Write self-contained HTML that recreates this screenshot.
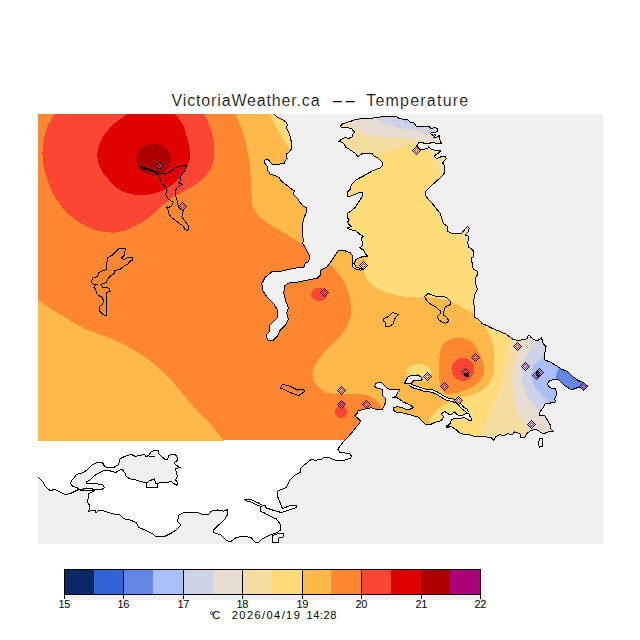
<!DOCTYPE html>
<html><head><meta charset="utf-8"><title>VictoriaWeather.ca -- Temperature</title>
<style>html,body{margin:0;padding:0;background:#fff}body{width:640px;height:640px;overflow:hidden;position:relative}svg{display:block}text{font-family:"Liberation Sans",sans-serif;fill:#000}</style></head><body>
<svg width="640" height="640" viewBox="0 0 640 640">
<rect width="640" height="640" fill="#fff"/>
<defs><clipPath id="mapclip"><rect x="38" y="114" width="565" height="430"/></clipPath>
<clipPath id="landclip"><path d="M38.0,113.0 L271.0,113.0 L273.5,113.8 L277.3,117.1 L282.8,119.8 L286.1,122.0 L287.2,124.8 L286.6,128.0 L288.3,131.3 L289.9,135.7 L290.5,138.4 L291.6,142.8 L291.6,148.3 L289.9,151.6 L286.6,153.8 L286.6,156.5 L287.2,158.7 L285.0,160.9 L283.9,163.8 L278.4,164.1 L272.4,164.1 L270.2,162.0 L268.6,159.8 L265.3,159.8 L264.2,161.4 L265.3,164.1 L267.5,166.9 L268.0,170.7 L270.2,174.0 L274.6,175.6 L279.0,177.3 L280.8,180.5 L286.2,184.8 L291.7,189.2 L294.5,190.9 L293.4,194.1 L297.2,198.0 L299.9,202.3 L303.2,206.2 L306.5,207.8 L306.5,212.2 L304.3,217.1 L303.2,220.9 L302.1,225.3 L302.1,231.9 L302.7,237.3 L303.8,239.5 L302.5,243.0 L304.4,246.2 L308.0,252.8 L310.0,257.5 L308.0,262.2 L305.3,263.0 L304.4,266.9 L296.9,267.8 L287.5,269.7 L280.0,271.5 L272.5,271.2 L265.0,277.5 L261.8,283.8 L263.0,291.2 L267.5,297.5 L273.8,303.8 L277.5,310.0 L277.5,317.5 L273.8,321.2 L270.0,325.0 L269.5,331.2 L266.2,335.0 L267.5,340.0 L272.5,340.8 L277.5,336.2 L280.0,330.6 L285.6,325.0 L288.4,319.4 L286.6,312.8 L288.4,308.0 L285.6,300.6 L283.8,293.0 L284.7,285.6 L289.4,282.8 L298.8,281.9 L308.0,280.0 L317.5,278.0 L320.3,275.3 L320.3,270.6 L326.9,266.9 L330.6,262.2 L334.4,256.6 L338.0,251.0 L343.8,250.4 L350.3,252.8 L353.0,256.6 L352.2,262.0 L352.2,266.0 L355.0,268.8 L360.6,270.2 L363.4,269.0 L360.6,268.4 L356.0,266.9 L354.0,263.5 L356.0,259.4 L362.5,256.6 L368.0,256.0 L366.2,254.7 L363.4,250.0 L359.7,248.0 L362.9,245.0 L362.3,241.7 L361.2,238.4 L363.4,236.2 L359.6,234.0 L355.8,230.8 L350.3,229.7 L347.6,228.0 L351.4,226.4 L349.2,224.8 L347.6,222.0 L349.2,219.8 L347.6,218.2 L347.6,213.3 L350.9,211.1 L354.7,207.8 L357.4,204.0 L359.6,200.7 L362.3,196.3 L362.3,192.5 L359.6,192.5 L354.1,194.7 L348.7,196.9 L347.6,196.3 L347.6,192.0 L350.3,189.2 L351.4,184.8 L353.6,182.1 L356.9,179.4 L363.4,176.0 L371.1,171.6 L377.1,168.9 L380.4,167.8 L382.0,166.1 L382.6,162.3 L379.8,160.1 L377.7,157.9 L373.3,155.8 L372.2,153.6 L367.8,153.3 L360.7,154.1 L358.5,156.3 L356.9,155.8 L355.2,153.0 L353.0,151.9 L349.2,149.2 L345.4,147.0 L344.8,144.8 L342.7,142.6 L338.8,141.3 L341.6,139.3 L344.8,137.7 L349.2,138.2 L352.5,136.6 L353.0,133.9 L354.5,132.2 L353.0,130.6 L351.4,128.4 L348.1,127.9 L341.0,127.3 L340.5,126.2 L342.7,123.5 L349.2,121.8 L356.9,119.1 L366.7,118.6 L378.8,117.5 L382.0,116.2 L396.2,116.2 L398.4,118.0 L400.0,118.9 L407.5,119.4 L410.3,122.2 L414.0,123.0 L416.0,126.0 L423.4,126.4 L429.5,126.9 L431.0,128.8 L434.7,127.3 L437.0,128.3 L437.5,131.0 L435.6,132.5 L431.4,132.5 L430.5,133.4 L432.8,135.3 L436.0,134.4 L434.7,136.7 L433.8,137.7 L437.0,137.2 L439.4,135.3 L439.8,138.0 L440.3,141.9 L441.7,143.3 L437.5,143.3 L432.8,142.8 L427.2,143.3 L424.8,143.8 L423.0,142.6 L418.8,142.8 L416.9,145.6 L418.8,147.5 L420.0,149.4 L423.4,149.4 L428.0,148.4 L428.6,147.0 L430.0,148.0 L432.3,149.8 L437.5,150.3 L440.8,150.8 L438.4,153.0 L436.0,154.5 L434.2,156.0 L436.6,158.3 L439.4,157.8 L442.2,156.0 L445.5,156.4 L446.4,158.8 L444.0,161.0 L442.7,163.0 L444.0,165.3 L445.0,171.1 L443.4,174.9 L439.0,178.8 L433.6,183.7 L429.2,188.0 L426.0,191.3 L425.4,194.6 L427.6,198.4 L431.4,202.3 L435.2,207.2 L440.2,213.2 L441.8,218.1 L443.4,223.6 L447.3,226.3 L447.3,230.7 L450.0,232.9 L456.6,233.7 L461.0,234.0 L463.7,230.7 L467.5,226.3 L469.1,228.0 L468.6,231.2 L466.4,233.4 L465.3,235.6 L467.5,235.6 L469.1,237.8 L468.8,239.4 L467.7,241.6 L468.3,247.0 L472.7,249.8 L473.8,252.5 L473.5,256.3 L471.6,258.0 L472.1,263.4 L473.2,268.9 L477.0,271.1 L477.6,274.9 L475.9,277.1 L475.7,283.1 L476.5,287.0 L477.6,288.6 L475.9,292.4 L474.3,295.7 L473.8,301.6 L474.3,309.2 L474.8,317.4 L478.7,319.6 L482.0,323.4 L486.9,325.6 L492.3,328.4 L498.9,331.1 L506.6,334.4 L509.8,337.1 L513.1,339.3 L517.5,340.4 L523.0,339.8 L527.3,338.8 L527.9,336.0 L529.5,335.5 L530.6,337.1 L532.8,338.8 L536.9,341.0 L541.5,338.0 L543.4,343.8 L546.2,346.5 L544.8,353.0 L544.4,359.7 L550.0,362.0 L555.6,365.3 L561.2,369.0 L567.8,371.9 L572.5,376.5 L578.0,380.3 L583.8,383.0 L587.5,386.0 L584.7,389.7 L581.9,387.8 L577.2,387.8 L571.5,389.7 L565.0,386.0 L561.2,382.2 L558.4,379.4 L553.8,379.4 L549.0,381.2 L547.2,384.0 L550.0,387.8 L555.6,388.8 L556.5,394.4 L554.7,399.0 L555.6,401.9 L551.9,402.8 L545.3,403.8 L543.4,407.5 L540.6,411.2 L538.8,414.0 L540.6,416.0 L544.4,415.0 L547.2,419.7 L550.0,424.4 L551.0,429.0 L553.4,431.5 L548.0,431.9 L543.4,434.0 L538.8,431.0 L535.0,429.0 L530.3,431.0 L526.5,433.8 L524.7,437.5 L521.0,437.5 L520.0,433.8 L514.4,431.9 L512.5,434.7 L507.8,433.8 L504.0,435.6 L499.4,434.7 L495.6,436.5 L493.5,440.5 L491.7,438.0 L486.2,436.9 L479.7,436.9 L474.2,436.3 L468.8,434.7 L463.3,434.1 L458.9,432.5 L455.6,429.2 L451.2,426.5 L446.9,427.0 L448.5,424.8 L450.7,422.7 L451.2,419.4 L454.5,418.8 L460.0,418.3 L464.4,417.7 L466.6,418.8 L469.8,421.0 L472.0,419.9 L470.4,417.2 L468.8,413.9 L466.6,413.4 L463.3,415.0 L458.9,415.5 L456.2,413.9 L454.5,411.7 L451.2,414.5 L448.0,413.9 L444.7,411.2 L441.4,413.9 L443.6,417.2 L441.4,420.5 L435.9,422.1 L431.6,423.8 L430.6,424.8 L426.2,424.8 L423.0,422.0 L420.8,419.8 L418.6,417.1 L414.2,416.0 L408.8,414.4 L402.2,412.7 L396.7,412.7 L393.2,410.0 L394.0,407.3 L397.8,406.7 L402.7,407.8 L406.6,410.0 L410.9,408.9 L413.7,407.3 L408.8,404.5 L402.7,401.8 L400.0,399.6 L396.7,397.4 L391.8,398.0 L396.2,395.8 L397.8,392.5 L400.0,389.8 L392.3,389.8 L388.0,388.7 L384.1,385.4 L381.4,382.4 L375.9,383.2 L374.3,385.9 L377.0,388.1 L382.0,389.2 L383.0,392.0 L382.5,395.2 L385.2,398.0 L385.8,401.8 L384.1,405.6 L382.5,409.5 L378.1,410.0 L371.6,407.8 L365.0,408.9 L358.1,410.9 L357.0,413.7 L354.8,415.9 L358.1,418.6 L360.3,420.8 L359.8,423.5 L355.9,427.3 L352.7,431.7 L348.3,436.6 L343.9,441.0 L340.6,445.4 L337.9,449.2 L339.5,452.0 L345.0,453.0 L349.9,453.6 L351.6,456.3 L349.9,458.5 L343.9,460.2 L335.2,460.2 L329.7,458.0 L324.2,457.4 L320.9,459.6 L315.5,460.2 L311.0,459.5 L307.5,462.5 L301.2,467.5 L300.0,472.5 L295.0,475.0 L290.0,480.0 L286.2,487.5 L277.5,491.2 L277.0,495.0 L280.0,502.5 L282.5,508.8 L290.0,505.5 L296.2,505.5 L296.2,507.5 L288.8,510.0 L281.2,512.5 L272.5,510.0 L265.0,507.5 L265.0,505.0 L261.2,506.2 L260.0,511.2 L263.8,512.5 L270.0,516.2 L276.2,518.8 L280.0,523.8 L280.5,530.0 L277.5,532.5 L270.0,535.0 L262.5,538.8 L258.8,542.5 L254.5,542.0 L251.2,537.5 L243.8,536.2 L236.2,537.5 L230.0,542.0 L226.2,540.0 L221.2,535.0 L213.8,532.5 L213.8,529.5 L220.0,523.8 L225.0,518.8 L228.0,513.8 L227.5,509.5 L223.8,511.2 L217.5,510.0 L211.2,511.2 L208.8,514.5 L202.5,514.5 L196.2,512.0 L190.0,512.5 L183.8,512.5 L178.8,515.0 L177.5,521.2 L181.2,525.0 L177.5,528.8 L172.5,532.5 L165.0,536.2 L156.2,537.0 L152.5,533.8 L145.0,530.0 L138.8,527.5 L136.2,522.5 L130.0,520.0 L123.8,518.8 L120.0,515.0 L112.5,513.8 L105.0,511.2 L98.8,510.0 L96.2,513.0 L95.0,510.0 L88.8,511.2 L90.0,506.2 L87.0,501.2 L88.0,498.8 L88.8,493.8 L95.0,490.3 L82.0,490.5 L78.8,489.4 L76.2,490.6 L70.0,493.8 L65.0,494.4 L60.0,491.9 L55.0,489.5 L50.0,490.5 L45.0,486.2 L42.5,481.2 L38.2,477.5 L38.0,477.5Z"/></clipPath>
<clipPath id="dataclip"><rect x="38" y="114" width="565" height="327"/></clipPath>
<g id="mk"><path d="M0,-4.5L4.5,0L0,4.5L-4.5,0Z"/><path fill="#000" d="M-0.5,-4.5h1v1h-1zM-1.5,-3.5h1v1h-1zM0.5,-3.5h1v1h-1zM-2.5,-2.5h1v1h-1zM1.5,-2.5h1v1h-1zM-3.5,-1.5h1v1h-1zM2.5,-1.5h1v1h-1zM-4.5,-0.5h1v1h-1zM3.5,-0.5h1v1h-1zM-3.5,0.5h1v1h-1zM2.5,0.5h1v1h-1zM-2.5,1.5h1v1h-1zM1.5,1.5h1v1h-1zM-1.5,2.5h1v1h-1zM0.5,2.5h1v1h-1zM-0.5,3.5h1v1h-1z"/><path fill="#cc1499" d="M-0.5,-2.5h1v1h-1zM-1.5,-1.5h1v1h-1zM0.5,-1.5h1v1h-1zM-2.5,-0.5h1v1h-1zM1.5,-0.5h1v1h-1zM-1.5,0.5h1v1h-1zM0.5,0.5h1v1h-1zM-0.5,1.5h1v1h-1z"/></g>
</defs>
<g shape-rendering="crispEdges">
<rect x="38" y="114" width="565" height="430" fill="#f0f0f0"/>
<g clip-path="url(#mapclip)">
<path d="M38.0,113.0 L271.0,113.0 L273.5,113.8 L277.3,117.1 L282.8,119.8 L286.1,122.0 L287.2,124.8 L286.6,128.0 L288.3,131.3 L289.9,135.7 L290.5,138.4 L291.6,142.8 L291.6,148.3 L289.9,151.6 L286.6,153.8 L286.6,156.5 L287.2,158.7 L285.0,160.9 L283.9,163.8 L278.4,164.1 L272.4,164.1 L270.2,162.0 L268.6,159.8 L265.3,159.8 L264.2,161.4 L265.3,164.1 L267.5,166.9 L268.0,170.7 L270.2,174.0 L274.6,175.6 L279.0,177.3 L280.8,180.5 L286.2,184.8 L291.7,189.2 L294.5,190.9 L293.4,194.1 L297.2,198.0 L299.9,202.3 L303.2,206.2 L306.5,207.8 L306.5,212.2 L304.3,217.1 L303.2,220.9 L302.1,225.3 L302.1,231.9 L302.7,237.3 L303.8,239.5 L302.5,243.0 L304.4,246.2 L308.0,252.8 L310.0,257.5 L308.0,262.2 L305.3,263.0 L304.4,266.9 L296.9,267.8 L287.5,269.7 L280.0,271.5 L272.5,271.2 L265.0,277.5 L261.8,283.8 L263.0,291.2 L267.5,297.5 L273.8,303.8 L277.5,310.0 L277.5,317.5 L273.8,321.2 L270.0,325.0 L269.5,331.2 L266.2,335.0 L267.5,340.0 L272.5,340.8 L277.5,336.2 L280.0,330.6 L285.6,325.0 L288.4,319.4 L286.6,312.8 L288.4,308.0 L285.6,300.6 L283.8,293.0 L284.7,285.6 L289.4,282.8 L298.8,281.9 L308.0,280.0 L317.5,278.0 L320.3,275.3 L320.3,270.6 L326.9,266.9 L330.6,262.2 L334.4,256.6 L338.0,251.0 L343.8,250.4 L350.3,252.8 L353.0,256.6 L352.2,262.0 L352.2,266.0 L355.0,268.8 L360.6,270.2 L363.4,269.0 L360.6,268.4 L356.0,266.9 L354.0,263.5 L356.0,259.4 L362.5,256.6 L368.0,256.0 L366.2,254.7 L363.4,250.0 L359.7,248.0 L362.9,245.0 L362.3,241.7 L361.2,238.4 L363.4,236.2 L359.6,234.0 L355.8,230.8 L350.3,229.7 L347.6,228.0 L351.4,226.4 L349.2,224.8 L347.6,222.0 L349.2,219.8 L347.6,218.2 L347.6,213.3 L350.9,211.1 L354.7,207.8 L357.4,204.0 L359.6,200.7 L362.3,196.3 L362.3,192.5 L359.6,192.5 L354.1,194.7 L348.7,196.9 L347.6,196.3 L347.6,192.0 L350.3,189.2 L351.4,184.8 L353.6,182.1 L356.9,179.4 L363.4,176.0 L371.1,171.6 L377.1,168.9 L380.4,167.8 L382.0,166.1 L382.6,162.3 L379.8,160.1 L377.7,157.9 L373.3,155.8 L372.2,153.6 L367.8,153.3 L360.7,154.1 L358.5,156.3 L356.9,155.8 L355.2,153.0 L353.0,151.9 L349.2,149.2 L345.4,147.0 L344.8,144.8 L342.7,142.6 L338.8,141.3 L341.6,139.3 L344.8,137.7 L349.2,138.2 L352.5,136.6 L353.0,133.9 L354.5,132.2 L353.0,130.6 L351.4,128.4 L348.1,127.9 L341.0,127.3 L340.5,126.2 L342.7,123.5 L349.2,121.8 L356.9,119.1 L366.7,118.6 L378.8,117.5 L382.0,116.2 L396.2,116.2 L398.4,118.0 L400.0,118.9 L407.5,119.4 L410.3,122.2 L414.0,123.0 L416.0,126.0 L423.4,126.4 L429.5,126.9 L431.0,128.8 L434.7,127.3 L437.0,128.3 L437.5,131.0 L435.6,132.5 L431.4,132.5 L430.5,133.4 L432.8,135.3 L436.0,134.4 L434.7,136.7 L433.8,137.7 L437.0,137.2 L439.4,135.3 L439.8,138.0 L440.3,141.9 L441.7,143.3 L437.5,143.3 L432.8,142.8 L427.2,143.3 L424.8,143.8 L423.0,142.6 L418.8,142.8 L416.9,145.6 L418.8,147.5 L420.0,149.4 L423.4,149.4 L428.0,148.4 L428.6,147.0 L430.0,148.0 L432.3,149.8 L437.5,150.3 L440.8,150.8 L438.4,153.0 L436.0,154.5 L434.2,156.0 L436.6,158.3 L439.4,157.8 L442.2,156.0 L445.5,156.4 L446.4,158.8 L444.0,161.0 L442.7,163.0 L444.0,165.3 L445.0,171.1 L443.4,174.9 L439.0,178.8 L433.6,183.7 L429.2,188.0 L426.0,191.3 L425.4,194.6 L427.6,198.4 L431.4,202.3 L435.2,207.2 L440.2,213.2 L441.8,218.1 L443.4,223.6 L447.3,226.3 L447.3,230.7 L450.0,232.9 L456.6,233.7 L461.0,234.0 L463.7,230.7 L467.5,226.3 L469.1,228.0 L468.6,231.2 L466.4,233.4 L465.3,235.6 L467.5,235.6 L469.1,237.8 L468.8,239.4 L467.7,241.6 L468.3,247.0 L472.7,249.8 L473.8,252.5 L473.5,256.3 L471.6,258.0 L472.1,263.4 L473.2,268.9 L477.0,271.1 L477.6,274.9 L475.9,277.1 L475.7,283.1 L476.5,287.0 L477.6,288.6 L475.9,292.4 L474.3,295.7 L473.8,301.6 L474.3,309.2 L474.8,317.4 L478.7,319.6 L482.0,323.4 L486.9,325.6 L492.3,328.4 L498.9,331.1 L506.6,334.4 L509.8,337.1 L513.1,339.3 L517.5,340.4 L523.0,339.8 L527.3,338.8 L527.9,336.0 L529.5,335.5 L530.6,337.1 L532.8,338.8 L536.9,341.0 L541.5,338.0 L543.4,343.8 L546.2,346.5 L544.8,353.0 L544.4,359.7 L550.0,362.0 L555.6,365.3 L561.2,369.0 L567.8,371.9 L572.5,376.5 L578.0,380.3 L583.8,383.0 L587.5,386.0 L584.7,389.7 L581.9,387.8 L577.2,387.8 L571.5,389.7 L565.0,386.0 L561.2,382.2 L558.4,379.4 L553.8,379.4 L549.0,381.2 L547.2,384.0 L550.0,387.8 L555.6,388.8 L556.5,394.4 L554.7,399.0 L555.6,401.9 L551.9,402.8 L545.3,403.8 L543.4,407.5 L540.6,411.2 L538.8,414.0 L540.6,416.0 L544.4,415.0 L547.2,419.7 L550.0,424.4 L551.0,429.0 L553.4,431.5 L548.0,431.9 L543.4,434.0 L538.8,431.0 L535.0,429.0 L530.3,431.0 L526.5,433.8 L524.7,437.5 L521.0,437.5 L520.0,433.8 L514.4,431.9 L512.5,434.7 L507.8,433.8 L504.0,435.6 L499.4,434.7 L495.6,436.5 L493.5,440.5 L491.7,438.0 L486.2,436.9 L479.7,436.9 L474.2,436.3 L468.8,434.7 L463.3,434.1 L458.9,432.5 L455.6,429.2 L451.2,426.5 L446.9,427.0 L448.5,424.8 L450.7,422.7 L451.2,419.4 L454.5,418.8 L460.0,418.3 L464.4,417.7 L466.6,418.8 L469.8,421.0 L472.0,419.9 L470.4,417.2 L468.8,413.9 L466.6,413.4 L463.3,415.0 L458.9,415.5 L456.2,413.9 L454.5,411.7 L451.2,414.5 L448.0,413.9 L444.7,411.2 L441.4,413.9 L443.6,417.2 L441.4,420.5 L435.9,422.1 L431.6,423.8 L430.6,424.8 L426.2,424.8 L423.0,422.0 L420.8,419.8 L418.6,417.1 L414.2,416.0 L408.8,414.4 L402.2,412.7 L396.7,412.7 L393.2,410.0 L394.0,407.3 L397.8,406.7 L402.7,407.8 L406.6,410.0 L410.9,408.9 L413.7,407.3 L408.8,404.5 L402.7,401.8 L400.0,399.6 L396.7,397.4 L391.8,398.0 L396.2,395.8 L397.8,392.5 L400.0,389.8 L392.3,389.8 L388.0,388.7 L384.1,385.4 L381.4,382.4 L375.9,383.2 L374.3,385.9 L377.0,388.1 L382.0,389.2 L383.0,392.0 L382.5,395.2 L385.2,398.0 L385.8,401.8 L384.1,405.6 L382.5,409.5 L378.1,410.0 L371.6,407.8 L365.0,408.9 L358.1,410.9 L357.0,413.7 L354.8,415.9 L358.1,418.6 L360.3,420.8 L359.8,423.5 L355.9,427.3 L352.7,431.7 L348.3,436.6 L343.9,441.0 L340.6,445.4 L337.9,449.2 L339.5,452.0 L345.0,453.0 L349.9,453.6 L351.6,456.3 L349.9,458.5 L343.9,460.2 L335.2,460.2 L329.7,458.0 L324.2,457.4 L320.9,459.6 L315.5,460.2 L311.0,459.5 L307.5,462.5 L301.2,467.5 L300.0,472.5 L295.0,475.0 L290.0,480.0 L286.2,487.5 L277.5,491.2 L277.0,495.0 L280.0,502.5 L282.5,508.8 L290.0,505.5 L296.2,505.5 L296.2,507.5 L288.8,510.0 L281.2,512.5 L272.5,510.0 L265.0,507.5 L265.0,505.0 L261.2,506.2 L260.0,511.2 L263.8,512.5 L270.0,516.2 L276.2,518.8 L280.0,523.8 L280.5,530.0 L277.5,532.5 L270.0,535.0 L262.5,538.8 L258.8,542.5 L254.5,542.0 L251.2,537.5 L243.8,536.2 L236.2,537.5 L230.0,542.0 L226.2,540.0 L221.2,535.0 L213.8,532.5 L213.8,529.5 L220.0,523.8 L225.0,518.8 L228.0,513.8 L227.5,509.5 L223.8,511.2 L217.5,510.0 L211.2,511.2 L208.8,514.5 L202.5,514.5 L196.2,512.0 L190.0,512.5 L183.8,512.5 L178.8,515.0 L177.5,521.2 L181.2,525.0 L177.5,528.8 L172.5,532.5 L165.0,536.2 L156.2,537.0 L152.5,533.8 L145.0,530.0 L138.8,527.5 L136.2,522.5 L130.0,520.0 L123.8,518.8 L120.0,515.0 L112.5,513.8 L105.0,511.2 L98.8,510.0 L96.2,513.0 L95.0,510.0 L88.8,511.2 L90.0,506.2 L87.0,501.2 L88.0,498.8 L88.8,493.8 L95.0,490.3 L82.0,490.5 L78.8,489.4 L76.2,490.6 L70.0,493.8 L65.0,494.4 L60.0,491.9 L55.0,489.5 L50.0,490.5 L45.0,486.2 L42.5,481.2 L38.2,477.5 L38.0,477.5Z" fill="#fff"/>
<g clip-path="url(#dataclip)"><g clip-path="url(#landclip)">
<rect x="38" y="113" width="565" height="327" fill="#ff8732"/>
<path d="M20.0,288.0C20.0,288.0 32.6,296.3 38.0,300.0C43.4,303.7 47.6,306.9 52.5,310.0C57.4,313.1 62.1,315.6 67.5,318.8C72.9,321.9 78.8,325.8 85.0,328.8C91.2,331.7 98.8,333.8 105.0,336.2C111.2,338.8 116.7,340.8 122.5,343.8C128.3,346.7 134.6,350.2 140.0,353.8C145.4,357.3 150.0,360.8 155.0,365.0C160.0,369.2 165.4,374.0 170.0,378.8C174.6,383.5 179.2,389.8 182.5,393.8C185.8,397.7 187.1,399.1 190.0,402.5C192.9,405.9 196.5,410.2 200.0,414.0C203.5,417.8 207.0,420.5 211.0,425.0C215.0,429.5 220.0,436.0 224.0,441.0C228.0,446.0 235.0,455.0 235.0,455.0C235.0,455.0 20.0,455.0 20.0,455.0C20.0,455.0 20.0,288.0 20.0,288.0Z" fill="#ffb94b"/>
<path d="M232.0,100.0C232.0,100.0 233.5,108.4 235.0,113.0C236.5,117.6 239.4,122.2 241.2,127.5C243.1,132.8 244.8,138.3 246.2,145.0C247.7,151.7 249.2,160.4 250.0,167.5C250.8,174.6 250.8,181.2 251.2,187.5C251.7,193.8 251.2,200.2 252.5,205.0C253.8,209.8 255.4,212.7 258.8,216.2C262.1,219.8 267.7,223.1 272.5,226.2C277.3,229.4 283.3,232.5 287.5,235.0C291.7,237.5 294.8,239.6 297.5,241.2C300.2,242.9 298.2,241.0 303.8,245.0C309.3,249.0 324.6,259.8 330.6,265.0C336.6,270.2 337.3,272.5 340.0,276.2C342.7,280.0 344.9,283.4 346.6,287.5C348.3,291.6 349.6,296.2 350.3,300.6C351.0,305.0 351.6,309.4 351.0,313.8C350.4,318.1 348.4,323.1 346.6,326.9C344.8,330.6 343.6,332.2 340.0,336.2C336.4,340.3 329.2,346.5 325.0,351.2C320.8,356.0 317.1,361.0 315.0,365.0C312.9,369.0 312.3,371.7 312.5,375.0C312.7,378.3 314.0,382.1 316.2,385.0C318.5,387.9 322.3,391.0 326.2,392.5C330.2,394.0 335.6,393.8 340.0,394.0C344.4,394.2 347.9,393.8 352.5,394.0C357.1,394.2 363.8,394.4 367.5,395.2C371.2,396.1 373.0,397.8 375.0,399.4C377.0,401.0 378.6,403.4 379.7,405.0C380.8,406.6 380.8,402.8 381.5,408.8C382.2,414.8 383.2,433.3 384.0,441.0C384.8,448.7 386.0,455.0 386.0,455.0C386.0,455.0 630.0,455.0 630.0,455.0C630.0,455.0 630.0,100.0 630.0,100.0C630.0,100.0 232.0,100.0 232.0,100.0Z" fill="#ffb94b"/>
<path d="M460.0,337.5C464.0,337.9 469.2,339.6 472.5,342.5C475.8,345.4 478.1,350.9 480.0,355.0C481.9,359.1 483.5,363.5 484.0,367.0C484.5,370.5 484.2,373.2 483.0,376.0C481.8,378.8 480.2,381.6 477.0,384.0C473.8,386.4 468.5,388.8 464.0,390.5C459.5,392.2 453.3,393.8 450.0,394.0C446.7,394.2 446.1,393.9 444.4,392.0C442.7,390.1 440.6,386.3 439.7,382.5C438.8,378.7 438.8,373.8 438.8,369.4C438.8,365.0 439.1,360.3 439.7,356.2C440.3,352.2 441.0,347.7 442.5,345.0C444.0,342.3 445.8,341.2 448.8,340.0C451.7,338.8 456.0,337.1 460.0,337.5Z" fill="#ff8732"/>
<ellipse cx="463" cy="369.3" rx="11.3" ry="11.5" fill="#fa4632"/>
<ellipse cx="319.3" cy="294.3" rx="8.2" ry="6.8" fill="#fa4632"/>
<ellipse cx="340.9" cy="412" rx="5.9" ry="6.2" fill="#fa4632"/>
<path d="M58.0,100.0C58.0,100.0 56.0,109.0 54.0,114.0C52.0,119.0 48.2,123.6 46.2,130.0C44.3,136.4 42.7,145.4 42.5,152.5C42.3,159.6 43.3,165.8 45.0,172.5C46.7,179.2 49.6,186.7 52.5,192.5C55.4,198.3 58.3,202.7 62.5,207.5C66.7,212.3 72.1,217.5 77.5,221.2C82.9,225.0 88.8,228.1 95.0,230.0C101.2,231.9 108.8,232.9 115.0,232.5C121.2,232.1 127.1,229.8 132.5,227.5C137.9,225.2 142.9,222.1 147.5,218.8C152.1,215.4 155.8,211.0 160.0,207.5C164.2,204.0 167.5,200.8 172.5,197.5C177.5,194.2 185.2,190.9 190.0,188.0C194.8,185.1 197.9,183.0 201.2,180.0C204.6,177.0 207.9,173.8 210.0,170.0C212.1,166.2 213.1,162.1 213.8,157.5C214.4,152.9 214.4,147.5 213.8,142.5C213.1,137.5 211.7,132.4 210.0,127.5C208.3,122.6 205.6,117.6 203.8,113.0C201.9,108.4 199.0,100.0 199.0,100.0C199.0,100.0 58.0,100.0 58.0,100.0Z" fill="#fa4632"/>
<path d="M140.0,100.0C140.0,100.0 133.3,108.8 128.8,113.0C124.2,117.2 117.1,120.5 112.5,125.0C107.9,129.5 103.8,135.0 101.2,140.0C98.7,145.0 97.0,150.0 97.0,155.0C97.0,160.0 98.7,165.2 101.2,170.0C103.8,174.8 109.4,180.4 112.5,183.8C115.6,187.1 116.7,188.2 120.0,190.0C123.3,191.8 128.3,193.6 132.5,194.4C136.7,195.2 140.8,195.3 145.0,195.0C149.2,194.7 153.8,193.7 157.5,192.5C161.2,191.3 164.6,189.7 167.5,188.0C170.4,186.3 172.5,184.7 175.0,182.5C177.5,180.3 180.3,177.9 182.5,175.0C184.7,172.1 186.8,168.1 188.0,165.0C189.2,161.9 189.8,159.2 190.0,156.2C190.2,153.3 189.8,150.2 189.4,147.5C189.0,144.8 188.6,143.8 187.5,140.0C186.4,136.2 185.2,129.5 183.0,125.0C180.8,120.5 177.0,117.2 174.0,113.0C171.0,108.8 165.0,100.0 165.0,100.0C165.0,100.0 140.0,100.0 140.0,100.0Z" fill="#e10000"/>
<ellipse cx="153.5" cy="159.7" rx="17.5" ry="16" fill="#aa0000"/>
<path d="M264.0,100.0C264.0,100.0 270.2,114.4 270.2,114.4C270.2,114.4 275.2,125.3 275.2,125.3C275.2,125.3 280.6,135.2 280.6,135.2C280.6,135.2 286.1,143.9 286.1,143.9C286.1,143.9 289.4,149.4 289.4,149.4C289.4,149.4 291.0,152.0 291.0,152.0C291.0,152.0 300.0,152.0 300.0,152.0C300.0,152.0 300.0,100.0 300.0,100.0C300.0,100.0 264.0,100.0 264.0,100.0Z" fill="#ffdc78"/>
<path d="M335.0,100.0C335.0,100.0 335.0,247.0 335.0,247.0C335.0,247.0 361.0,247.0 361.0,247.0C361.0,247.0 368.0,256.0 368.0,256.0C368.0,256.0 363.1,265.2 363.4,269.7C363.7,274.2 367.0,279.6 370.0,283.0C373.0,286.4 377.5,288.5 381.2,290.3C385.0,292.1 389.4,293.1 392.5,294.0C395.6,294.9 396.2,295.4 400.0,296.0C403.8,296.6 410.0,297.2 415.0,297.5C420.0,297.8 424.2,296.9 430.0,297.5C435.8,298.1 444.6,299.6 450.0,301.2C455.4,302.9 458.9,305.6 462.5,307.5C466.1,309.4 469.6,310.9 471.6,312.5C473.7,314.1 473.0,315.4 474.8,317.4C476.6,319.4 480.5,322.4 482.5,324.5C484.5,326.6 485.6,328.0 486.9,330.0C488.2,332.0 489.2,334.2 490.2,336.6C491.2,339.0 492.3,341.6 492.9,344.2C493.5,346.8 493.8,349.2 494.0,351.9C494.2,354.6 494.4,357.2 494.3,360.6C494.2,364.0 494.4,368.4 493.7,372.0C493.0,375.6 491.6,379.2 490.0,382.0C488.4,384.8 487.2,386.3 484.4,388.5C481.6,390.7 477.4,393.4 473.0,395.0C468.6,396.6 461.8,396.8 458.0,398.0C454.2,399.2 452.6,400.7 450.0,402.0C447.4,403.3 444.7,404.6 442.5,406.0C440.3,407.4 438.9,408.8 437.0,410.5C435.1,412.2 432.5,414.0 431.2,416.2C430.0,418.5 429.9,419.2 429.4,424.0C428.9,428.8 428.2,439.8 428.0,445.0C427.8,450.2 428.0,455.0 428.0,455.0C428.0,455.0 630.0,455.0 630.0,455.0C630.0,455.0 630.0,100.0 630.0,100.0C630.0,100.0 335.0,100.0 335.0,100.0Z" fill="#ffdc78"/>
<ellipse cx="419" cy="373" rx="12.5" ry="9" fill="#ffdc78"/>
<path d="M335.0,100.0C335.0,100.0 335.0,160.0 335.0,160.0C335.0,160.0 368.0,157.0 368.0,157.0C368.0,157.0 371.0,154.7 372.8,154.1C374.5,153.5 376.5,153.9 378.8,153.6C381.0,153.3 383.9,153.2 386.4,152.5C388.9,151.8 391.6,150.6 394.0,149.7C396.4,148.8 398.4,148.0 400.6,147.2C402.9,146.4 405.3,145.4 407.5,144.9C409.7,144.4 412.2,144.5 414.0,144.2C415.8,143.9 416.2,142.1 418.5,143.3C420.8,144.5 425.8,148.7 428.0,151.2C430.2,153.8 430.6,156.2 431.9,158.8C433.2,161.2 434.8,164.4 435.6,166.2C436.5,168.1 436.0,168.5 437.0,170.0C438.0,171.5 440.3,174.2 441.5,175.5C442.7,176.8 444.0,178.0 444.0,178.0C444.0,178.0 444.0,181.0 444.0,181.0C444.0,181.0 460.0,181.0 460.0,181.0C460.0,181.0 460.0,100.0 460.0,100.0C460.0,100.0 335.0,100.0 335.0,100.0Z" fill="#f5dca0"/>
<path d="M458.0,232.0C458.0,232.0 459.2,234.0 460.0,235.5C460.8,237.0 462.0,239.1 463.0,241.0C464.0,242.9 464.8,244.9 466.0,247.0C467.2,249.1 469.1,251.8 470.0,253.6C470.9,255.4 471.5,258.0 471.5,258.0C471.5,258.0 480.0,258.0 480.0,258.0C480.0,258.0 480.0,225.0 480.0,225.0C480.0,225.0 458.0,225.0 458.0,225.0C458.0,225.0 458.0,232.0 458.0,232.0Z" fill="#f5dca0"/>
<path d="M511.0,320.0C511.0,320.0 511.7,330.0 511.0,335.0C510.3,340.0 508.1,345.0 507.0,350.0C505.9,355.0 505.3,360.0 504.5,365.0C503.7,370.0 503.2,374.7 502.0,380.0C500.8,385.3 498.7,392.3 497.0,397.0C495.3,401.7 493.5,404.6 492.0,408.0C490.5,411.4 489.6,414.0 488.0,417.5C486.4,421.0 483.7,425.6 482.5,428.8C481.3,431.9 481.0,433.5 480.6,436.2C480.2,439.0 480.1,441.9 480.0,445.0C479.9,448.1 480.0,455.0 480.0,455.0C480.0,455.0 630.0,455.0 630.0,455.0C630.0,455.0 630.0,320.0 630.0,320.0C630.0,320.0 511.0,320.0 511.0,320.0Z" fill="#f5dca0"/>
<path d="M347.0,100.0C347.0,100.0 347.2,117.3 348.5,122.0C349.8,126.7 352.2,126.6 354.7,128.4C357.2,130.2 360.3,131.6 363.4,132.8C366.5,134.0 369.8,134.8 373.3,135.5C376.8,136.2 380.6,136.8 384.2,137.2C387.8,137.6 391.7,137.6 395.2,137.7C398.7,137.8 401.1,137.5 405.0,137.9C408.9,138.3 415.4,139.3 418.8,140.0C422.1,140.7 423.1,141.5 425.3,141.9C427.5,142.3 428.7,142.2 432.0,142.5C435.3,142.8 440.3,143.8 445.0,144.0C449.7,144.2 460.0,144.0 460.0,144.0C460.0,144.0 460.0,100.0 460.0,100.0C460.0,100.0 347.0,100.0 347.0,100.0Z" fill="#e6dcd2"/>
<path d="M522.5,320.0C522.5,320.0 522.6,332.5 522.5,336.0C522.4,339.5 522.6,338.5 521.9,341.0C521.1,343.5 519.2,347.4 518.0,351.2C516.8,355.1 515.3,360.0 514.4,364.4C513.5,368.8 512.8,373.1 512.5,377.5C512.2,381.9 512.5,386.4 512.9,390.6C513.3,394.9 513.8,398.8 515.0,403.0C516.2,407.2 518.2,412.2 520.0,416.0C521.8,419.8 524.1,423.2 525.6,426.0C527.1,428.8 528.3,429.8 529.0,433.0C529.7,436.2 529.8,441.3 530.0,445.0C530.2,448.7 530.0,455.0 530.0,455.0C530.0,455.0 630.0,455.0 630.0,455.0C630.0,455.0 630.0,320.0 630.0,320.0C630.0,320.0 522.5,320.0 522.5,320.0Z" fill="#e6dcd2"/>
<path d="M378.0,100.0C378.0,100.0 378.1,114.8 378.8,118.6C379.4,122.4 380.2,121.7 382.0,122.9C383.8,124.1 387.0,124.9 389.7,125.7C392.4,126.5 395.1,127.2 398.0,127.8C400.9,128.4 403.5,128.6 407.0,129.2C410.5,129.8 415.4,130.4 418.8,131.1C422.1,131.8 425.0,132.8 427.2,133.4C429.4,134.1 429.0,134.4 432.0,135.0C435.0,135.6 440.3,136.7 445.0,137.0C449.7,137.3 460.0,137.0 460.0,137.0C460.0,137.0 460.0,100.0 460.0,100.0C460.0,100.0 378.0,100.0 378.0,100.0Z" fill="#cdd2e6"/>
<path d="M536.0,320.0C536.0,320.0 536.2,332.7 536.0,336.0C535.8,339.3 535.8,338.1 535.0,340.0C534.2,341.9 532.8,344.7 531.2,347.5C529.7,350.3 527.2,353.6 525.6,357.0C524.0,360.4 522.5,364.3 521.9,368.0C521.3,371.7 521.4,375.6 521.9,379.4C522.4,383.2 523.3,387.0 524.7,390.6C526.1,394.2 528.3,398.0 530.3,401.0C532.3,404.0 535.3,406.5 536.9,408.4C538.5,410.3 539.0,411.7 539.7,412.2C540.4,412.7 541.0,411.5 541.0,411.5C541.0,411.5 544.0,407.0 544.0,407.0C544.0,407.0 546.0,403.5 546.0,403.5C546.0,403.5 630.0,403.5 630.0,403.5C630.0,403.5 630.0,320.0 630.0,320.0C630.0,320.0 536.0,320.0 536.0,320.0Z" fill="#cdd2e6"/>
<path d="M546.0,340.0C546.0,340.0 546.3,347.5 546.0,350.0C545.7,352.5 545.4,353.4 544.4,355.0C543.4,356.6 541.4,358.0 539.7,359.7C538.0,361.4 535.4,363.0 534.0,365.3C532.6,367.6 531.4,370.8 531.2,373.8C531.1,376.7 531.8,380.0 533.0,383.0C534.2,386.0 536.5,388.8 538.8,391.5C541.0,394.2 543.8,397.2 546.2,399.0C548.8,400.8 539.8,401.9 553.8,402.5C567.7,403.1 630.0,402.5 630.0,402.5C630.0,402.5 630.0,340.0 630.0,340.0C630.0,340.0 546.0,340.0 546.0,340.0Z" fill="#aabefa"/>
<path d="M560.0,360.0C560.0,360.0 560.3,364.5 560.0,366.0C559.7,367.5 559.0,367.7 558.4,369.0C557.8,370.3 557.0,372.2 556.5,374.0C556.0,375.8 555.7,376.3 555.6,379.5C555.5,382.7 556.0,393.0 556.0,393.0C556.0,393.0 630.0,393.0 630.0,393.0C630.0,393.0 630.0,360.0 630.0,360.0C630.0,360.0 560.0,360.0 560.0,360.0Z" fill="#6487e6"/>
<ellipse cx="406.5" cy="121" rx="3" ry="1.8" fill="#aabefa"/>
</g></g>
<polygon points="78.8,489.4 76.9,487.5 72.5,486.2 70.6,483.8 71.2,480.6 74.4,477.5 76.2,474.4 82.5,473.0 86.9,470.0 91.2,465.6 96.2,463.0 102.5,462.5 104.4,466.2 108.8,468.0 113.8,467.5 118.8,464.4 120.0,458.8 125.0,456.2 131.2,454.4 135.0,456.2 140.0,455.6 144.4,454.4 146.2,456.9 148.8,455.0 151.2,451.9 154.4,450.2 158.1,450.2 158.8,453.8 161.2,456.2 165.0,459.4 167.5,459.4 168.8,455.6 171.9,454.4 175.6,455.0 177.5,457.5 177.2,460.6 173.8,463.0 176.9,465.6 179.8,467.5 175.6,468.8 176.2,472.5 177.5,476.2 175.6,480.0 177.5,483.0 176.9,485.2 175.0,484.4 170.6,481.2 166.9,483.0 163.0,481.9 159.4,483.0 155.6,483.8 154.4,478.8 150.0,480.6 146.2,483.0 140.0,481.2 133.8,479.4 129.4,478.8 126.2,476.2 125.0,473.1 122.5,470.0 121.2,469.4 116.2,472.2 112.5,471.9 108.8,470.2 103.8,470.6 98.8,473.0 93.8,476.2 90.0,480.0 86.2,481.9 86.9,483.8 91.2,483.0 97.5,484.0 102.5,484.4 104.4,487.5 101.9,489.4 95.0,490.0 90.0,488.0 85.0,488.0 81.9,490.0" fill="#f0f0f0" stroke="#000" stroke-width="1"/>
<polyline points="146.9,483.0 146.9,487.5 158.0,487.5 157.5,484.0" fill="none" stroke="#000" stroke-width="1"/><path d="M148.7,456.5H154.5" stroke="#000" stroke-width="1"/>
<path d="M271.0,113.0 L273.5,113.8 L277.3,117.1 L282.8,119.8 L286.1,122.0 L287.2,124.8 L286.6,128.0 L288.3,131.3 L289.9,135.7 L290.5,138.4 L291.6,142.8 L291.6,148.3 L289.9,151.6 L286.6,153.8 L286.6,156.5 L287.2,158.7 L285.0,160.9 L283.9,163.8 L278.4,164.1 L272.4,164.1 L270.2,162.0 L268.6,159.8 L265.3,159.8 L264.2,161.4 L265.3,164.1 L267.5,166.9 L268.0,170.7 L270.2,174.0 L274.6,175.6 L279.0,177.3 L280.8,180.5 L286.2,184.8 L291.7,189.2 L294.5,190.9 L293.4,194.1 L297.2,198.0 L299.9,202.3 L303.2,206.2 L306.5,207.8 L306.5,212.2 L304.3,217.1 L303.2,220.9 L302.1,225.3 L302.1,231.9 L302.7,237.3 L303.8,239.5 L302.5,243.0 L304.4,246.2 L308.0,252.8 L310.0,257.5 L308.0,262.2 L305.3,263.0 L304.4,266.9 L296.9,267.8 L287.5,269.7 L280.0,271.5 L272.5,271.2 L265.0,277.5 L261.8,283.8 L263.0,291.2 L267.5,297.5 L273.8,303.8 L277.5,310.0 L277.5,317.5 L273.8,321.2 L270.0,325.0 L269.5,331.2 L266.2,335.0 L267.5,340.0 L272.5,340.8 L277.5,336.2 L280.0,330.6 L285.6,325.0 L288.4,319.4 L286.6,312.8 L288.4,308.0 L285.6,300.6 L283.8,293.0 L284.7,285.6 L289.4,282.8 L298.8,281.9 L308.0,280.0 L317.5,278.0 L320.3,275.3 L320.3,270.6 L326.9,266.9 L330.6,262.2 L334.4,256.6 L338.0,251.0 L343.8,250.4 L350.3,252.8 L353.0,256.6 L352.2,262.0 L352.2,266.0 L355.0,268.8 L360.6,270.2 L363.4,269.0 L360.6,268.4 L356.0,266.9 L354.0,263.5 L356.0,259.4 L362.5,256.6 L368.0,256.0 L366.2,254.7 L363.4,250.0 L359.7,248.0 L362.9,245.0 L362.3,241.7 L361.2,238.4 L363.4,236.2 L359.6,234.0 L355.8,230.8 L350.3,229.7 L347.6,228.0 L351.4,226.4 L349.2,224.8 L347.6,222.0 L349.2,219.8 L347.6,218.2 L347.6,213.3 L350.9,211.1 L354.7,207.8 L357.4,204.0 L359.6,200.7 L362.3,196.3 L362.3,192.5 L359.6,192.5 L354.1,194.7 L348.7,196.9 L347.6,196.3 L347.6,192.0 L350.3,189.2 L351.4,184.8 L353.6,182.1 L356.9,179.4 L363.4,176.0 L371.1,171.6 L377.1,168.9 L380.4,167.8 L382.0,166.1 L382.6,162.3 L379.8,160.1 L377.7,157.9 L373.3,155.8 L372.2,153.6 L367.8,153.3 L360.7,154.1 L358.5,156.3 L356.9,155.8 L355.2,153.0 L353.0,151.9 L349.2,149.2 L345.4,147.0 L344.8,144.8 L342.7,142.6 L338.8,141.3 L341.6,139.3 L344.8,137.7 L349.2,138.2 L352.5,136.6 L353.0,133.9 L354.5,132.2 L353.0,130.6 L351.4,128.4 L348.1,127.9 L341.0,127.3 L340.5,126.2 L342.7,123.5 L349.2,121.8 L356.9,119.1 L366.7,118.6 L378.8,117.5 L382.0,116.2 L396.2,116.2 L398.4,118.0 L400.0,118.9 L407.5,119.4 L410.3,122.2 L414.0,123.0 L416.0,126.0 L423.4,126.4 L429.5,126.9 L431.0,128.8 L434.7,127.3 L437.0,128.3 L437.5,131.0 L435.6,132.5 L431.4,132.5 L430.5,133.4 L432.8,135.3 L436.0,134.4 L434.7,136.7 L433.8,137.7 L437.0,137.2 L439.4,135.3 L439.8,138.0 L440.3,141.9 L441.7,143.3 L437.5,143.3 L432.8,142.8 L427.2,143.3 L424.8,143.8 L423.0,142.6 L418.8,142.8 L416.9,145.6 L418.8,147.5 L420.0,149.4 L423.4,149.4 L428.0,148.4 L428.6,147.0 L430.0,148.0 L432.3,149.8 L437.5,150.3 L440.8,150.8 L438.4,153.0 L436.0,154.5 L434.2,156.0 L436.6,158.3 L439.4,157.8 L442.2,156.0 L445.5,156.4 L446.4,158.8 L444.0,161.0 L442.7,163.0 L444.0,165.3 L445.0,171.1 L443.4,174.9 L439.0,178.8 L433.6,183.7 L429.2,188.0 L426.0,191.3 L425.4,194.6 L427.6,198.4 L431.4,202.3 L435.2,207.2 L440.2,213.2 L441.8,218.1 L443.4,223.6 L447.3,226.3 L447.3,230.7 L450.0,232.9 L456.6,233.7 L461.0,234.0 L463.7,230.7 L467.5,226.3 L469.1,228.0 L468.6,231.2 L466.4,233.4 L465.3,235.6 L467.5,235.6 L469.1,237.8 L468.8,239.4 L467.7,241.6 L468.3,247.0 L472.7,249.8 L473.8,252.5 L473.5,256.3 L471.6,258.0 L472.1,263.4 L473.2,268.9 L477.0,271.1 L477.6,274.9 L475.9,277.1 L475.7,283.1 L476.5,287.0 L477.6,288.6 L475.9,292.4 L474.3,295.7 L473.8,301.6 L474.3,309.2 L474.8,317.4 L478.7,319.6 L482.0,323.4 L486.9,325.6 L492.3,328.4 L498.9,331.1 L506.6,334.4 L509.8,337.1 L513.1,339.3 L517.5,340.4 L523.0,339.8 L527.3,338.8 L527.9,336.0 L529.5,335.5 L530.6,337.1 L532.8,338.8 L536.9,341.0 L541.5,338.0 L543.4,343.8 L546.2,346.5 L544.8,353.0 L544.4,359.7 L550.0,362.0 L555.6,365.3 L561.2,369.0 L567.8,371.9 L572.5,376.5 L578.0,380.3 L583.8,383.0 L587.5,386.0 L584.7,389.7 L581.9,387.8 L577.2,387.8 L571.5,389.7 L565.0,386.0 L561.2,382.2 L558.4,379.4 L553.8,379.4 L549.0,381.2 L547.2,384.0 L550.0,387.8 L555.6,388.8 L556.5,394.4 L554.7,399.0 L555.6,401.9 L551.9,402.8 L545.3,403.8 L543.4,407.5 L540.6,411.2 L538.8,414.0 L540.6,416.0 L544.4,415.0 L547.2,419.7 L550.0,424.4 L551.0,429.0 L553.4,431.5 L548.0,431.9 L543.4,434.0 L538.8,431.0 L535.0,429.0 L530.3,431.0 L526.5,433.8 L524.7,437.5 L521.0,437.5 L520.0,433.8 L514.4,431.9 L512.5,434.7 L507.8,433.8 L504.0,435.6 L499.4,434.7 L495.6,436.5 L493.5,440.5 L491.7,438.0 L486.2,436.9 L479.7,436.9 L474.2,436.3 L468.8,434.7 L463.3,434.1 L458.9,432.5 L455.6,429.2 L451.2,426.5 L446.9,427.0 L448.5,424.8 L450.7,422.7 L451.2,419.4 L454.5,418.8 L460.0,418.3 L464.4,417.7 L466.6,418.8 L469.8,421.0 L472.0,419.9 L470.4,417.2 L468.8,413.9 L466.6,413.4 L463.3,415.0 L458.9,415.5 L456.2,413.9 L454.5,411.7 L451.2,414.5 L448.0,413.9 L444.7,411.2 L441.4,413.9 L443.6,417.2 L441.4,420.5 L435.9,422.1 L431.6,423.8 L430.6,424.8 L426.2,424.8 L423.0,422.0 L420.8,419.8 L418.6,417.1 L414.2,416.0 L408.8,414.4 L402.2,412.7 L396.7,412.7 L393.2,410.0 L394.0,407.3 L397.8,406.7 L402.7,407.8 L406.6,410.0 L410.9,408.9 L413.7,407.3 L408.8,404.5 L402.7,401.8 L400.0,399.6 L396.7,397.4 L391.8,398.0 L396.2,395.8 L397.8,392.5 L400.0,389.8 L392.3,389.8 L388.0,388.7 L384.1,385.4 L381.4,382.4 L375.9,383.2 L374.3,385.9 L377.0,388.1 L382.0,389.2 L383.0,392.0 L382.5,395.2 L385.2,398.0 L385.8,401.8 L384.1,405.6 L382.5,409.5 L378.1,410.0 L371.6,407.8 L365.0,408.9 L358.1,410.9 L357.0,413.7 L354.8,415.9 L358.1,418.6 L360.3,420.8 L359.8,423.5 L355.9,427.3 L352.7,431.7 L348.3,436.6 L343.9,441.0 L340.6,445.4 L337.9,449.2 L339.5,452.0 L345.0,453.0 L349.9,453.6 L351.6,456.3 L349.9,458.5 L343.9,460.2 L335.2,460.2 L329.7,458.0 L324.2,457.4 L320.9,459.6 L315.5,460.2 L311.0,459.5 L307.5,462.5 L301.2,467.5 L300.0,472.5 L295.0,475.0 L290.0,480.0 L286.2,487.5 L277.5,491.2 L277.0,495.0 L280.0,502.5 L282.5,508.8 L290.0,505.5 L296.2,505.5 L296.2,507.5 L288.8,510.0 L281.2,512.5 L272.5,510.0 L265.0,507.5 L265.0,505.0 L261.2,506.2 L260.0,511.2 L263.8,512.5 L270.0,516.2 L276.2,518.8 L280.0,523.8 L280.5,530.0 L277.5,532.5 L270.0,535.0 L262.5,538.8 L258.8,542.5 L254.5,542.0 L251.2,537.5 L243.8,536.2 L236.2,537.5 L230.0,542.0 L226.2,540.0 L221.2,535.0 L213.8,532.5 L213.8,529.5 L220.0,523.8 L225.0,518.8 L228.0,513.8 L227.5,509.5 L223.8,511.2 L217.5,510.0 L211.2,511.2 L208.8,514.5 L202.5,514.5 L196.2,512.0 L190.0,512.5 L183.8,512.5 L178.8,515.0 L177.5,521.2 L181.2,525.0 L177.5,528.8 L172.5,532.5 L165.0,536.2 L156.2,537.0 L152.5,533.8 L145.0,530.0 L138.8,527.5 L136.2,522.5 L130.0,520.0 L123.8,518.8 L120.0,515.0 L112.5,513.8 L105.0,511.2 L98.8,510.0 L96.2,513.0 L95.0,510.0 L88.8,511.2 L90.0,506.2 L87.0,501.2 L88.0,498.8 L88.8,493.8 L95.0,490.3 L82.0,490.5 L78.8,489.4 L76.2,490.6 L70.0,493.8 L65.0,494.4 L60.0,491.9 L55.0,489.5 L50.0,490.5 L45.0,486.2 L42.5,481.2 L38.2,477.5" fill="none" stroke="#000" stroke-width="1" stroke-linejoin="round"/>
<path d="M409.5,384.0 L413.1,386.6 L419.7,388.4 L425.0,390.4 L431.6,390.9 L437.0,393.1 L441.4,395.9 L446.9,399.1 L452.3,400.2 L456.7,401.9 L460.0,404.5 L462.5,408.0 L466.0,410.0 L468.0,413.0" fill="none" stroke="#000" stroke-width="3.5"/>
<polygon points="404.4,383.8 406.0,380.5 407.7,377.2 410.9,375.5 417.5,375.0 420.8,376.6 422.4,379.4 419.7,381.0 414.2,380.5 411.5,382.7 408.8,383.8" fill="#f0f0f0" stroke="#000" stroke-width="1"/>
<path d="M409.5,384.0 L413.1,386.6 L419.7,388.4 L425.0,390.4 L431.6,390.9 L437.0,393.1 L441.4,395.9 L446.9,399.1 L452.3,400.2 L456.7,401.9 L460.0,404.5 L462.5,408.0 L466.0,410.0 L468.0,413.0" fill="none" stroke="#f0f0f0" stroke-width="1.5"/>
<polygon points="140.2,166.2 145.0,168.0 150.0,169.4 153.8,171.2 157.5,172.2 162.5,173.8 167.5,173.0 171.2,171.2 175.0,168.0 178.8,166.5 182.5,165.6 186.2,165.2 186.2,167.5 185.0,170.6 182.5,173.8 180.0,177.5 180.6,180.0 178.8,183.0 182.5,184.4 178.8,186.2 176.9,188.0 175.6,190.0 176.0,196.6 177.5,202.2 178.4,206.9 181.2,209.7 183.6,210.2 182.7,213.4 181.7,216.7 184.0,220.0 186.4,222.8 188.3,225.6 188.8,228.4 187.3,230.3 185.0,229.8 184.0,227.5 182.2,225.2 178.4,222.8 174.7,220.0 171.0,217.2 168.6,213.4 168.0,209.7 166.7,206.9 169.0,207.3 172.3,205.0 173.3,202.2 168.0,199.0 165.5,193.8 167.2,190.0 165.6,186.9 161.9,183.8 160.6,180.0 158.8,176.2 157.5,173.5 153.8,172.5 150.0,170.6 145.0,169.2 140.2,167.5" fill="none" stroke="#000" stroke-width="1"/>
<polygon points="119.4,248.2 125.4,248.2 124.3,255.3 121.6,258.0 123.8,259.7 128.1,257.5 132.0,257.5 132.5,260.2 129.8,261.3 128.1,264.0 123.8,266.2 120.5,269.0 115.0,270.6 113.9,273.9 109.5,276.6 106.2,282.7 100.8,284.3 103.0,287.6 109.5,288.1 110.0,291.4 106.8,292.5 106.2,298.0 106.2,304.5 106.5,310.0 106.2,315.0 103.8,315.0 99.5,311.2 100.0,306.2 102.4,304.5 103.5,301.2 102.4,297.4 99.1,295.8 96.4,293.6 95.9,289.8 93.7,287.0 96.4,284.8 93.7,284.8 90.9,282.1 93.1,277.7 97.5,276.6 99.1,272.3 106.2,269.5 106.8,263.0 107.9,257.5 112.8,254.8" fill="none" stroke="#000" stroke-width="1"/>
<polygon points="424.9,296.2 428.4,293.4 431.2,294.8 438.3,297.0 443.9,296.5 447.4,298.4 450.9,301.9 450.2,304.7 445.3,306.8 443.9,311.0 443.6,315.2 446.7,317.3 448.8,320.9 446.0,323.2 442.5,322.3 438.3,319.5 437.6,316.6 440.4,313.8 440.4,311.0 435.5,306.8 431.2,304.7 427.7,301.9 425.6,299.0" fill="none" stroke="#000" stroke-width="1"/>
<polygon points="383.4,318.8 388.4,316.6 392.6,312.4 398.2,314.5 394.7,318.8 393.3,323.7 389.0,326.9 385.5,326.9 385.5,322.3 383.4,321.3" fill="none" stroke="#000" stroke-width="1"/>
<polygon points="282.5,384.5 290.0,386.2 297.5,390.0 302.5,389.2 305.0,391.2 298.8,395.5 290.0,392.5 280.5,388.0" fill="none" stroke="#000" stroke-width="1"/>
<polygon points="539.7,438.4 542.5,438.4 542.5,446.0 539.7,447.3 538.2,444.5" fill="#fff" stroke="#000" stroke-width="1"/><rect x="446" y="425" width="3" height="3" fill="#000"/>
<polygon points="245.0,499.5 250.0,499.3 257.5,502.5 263.0,505.5 261.2,506.5 256.0,504.5 250.0,501.5 245.5,500.8" fill="#fff" stroke="#000" stroke-width="1"/>
<polygon points="272.0,536.0 279.0,533.0 283.5,533.7 283.0,537.5 279.0,538.0 278.0,542.5 272.5,543.0" fill="#fff" stroke="#000" stroke-width="1"/>
</g>
<use href="#mk" x="159.5" y="165.5" fill="#aa0000"/>
<use href="#mk" x="182.5" y="206.5" fill="#ff8732"/>
<use href="#mk" x="416.5" y="150.5" fill="#ffdc78"/>
<use href="#mk" x="363.5" y="265.5" fill="#ffdc78"/>
<use href="#mk" x="324.5" y="292.5" fill="#fa4632"/>
<use href="#mk" x="341.5" y="390.5" fill="#ffb94b"/>
<use href="#mk" x="341.5" y="404.5" fill="#fa4632"/>
<use href="#mk" x="366.5" y="404.5" fill="#ff8732"/>
<use href="#mk" x="427.5" y="376.5" fill="#ffdc78"/>
<use href="#mk" x="444.5" y="386.5" fill="#ff8732"/>
<use href="#mk" x="458.5" y="400.5" fill="#ffdc78"/>
<use href="#mk" x="475.5" y="357.5" fill="#ff8732"/>
<use href="#mk" x="517.5" y="346.5" fill="#f5dca0"/>
<use href="#mk" x="525.5" y="366.5" fill="#cdd2e6"/>
<use href="#mk" x="583.5" y="386.5" fill="#6487e6"/>
<use href="#mk" x="531.5" y="424.5" fill="#e6dcd2"/>
<use href="#mk" x="536.5" y="375.5" fill="#aabefa"/><use href="#mk" x="539.5" y="372.5" fill="#aabefa"/><path d="M535.5,372.5l2.5,-2.5l2,3l0,3l-2,2.5l-1.5,-2z" fill="#000"/><path fill="#cc1499" d="M537,373h1v1h-1zM538,374h1v1h-1zM538,372h1v1h-1zM539,373h1v1h-1z"/>
<use href="#mk" x="465.5" y="372.5" fill="#fa4632"/><path d="M463.5,373l5.5,-0.5l0,4l-3,1.2l-2.5,-2.5z" fill="#000"/>
<rect x="68" y="574" width="417" height="26" fill="#f0f0f0"/>
<rect x="64.00" y="569" width="30.21" height="25" fill="#0a2864"/>
<rect x="93.71" y="569" width="30.21" height="25" fill="#3264d7"/>
<rect x="123.43" y="569" width="30.21" height="25" fill="#6487e6"/>
<rect x="153.14" y="569" width="30.21" height="25" fill="#aabefa"/>
<rect x="182.86" y="569" width="30.21" height="25" fill="#cdd2e6"/>
<rect x="212.57" y="569" width="30.21" height="25" fill="#e6dcd2"/>
<rect x="242.28" y="569" width="30.21" height="25" fill="#f5dca0"/>
<rect x="272.00" y="569" width="30.21" height="25" fill="#ffdc78"/>
<rect x="301.71" y="569" width="30.21" height="25" fill="#ffb94b"/>
<rect x="331.43" y="569" width="30.21" height="25" fill="#ff8732"/>
<rect x="361.14" y="569" width="30.21" height="25" fill="#fa4632"/>
<rect x="390.85" y="569" width="30.21" height="25" fill="#e10000"/>
<rect x="420.57" y="569" width="30.21" height="25" fill="#aa0000"/>
<rect x="450.28" y="569" width="30.21" height="25" fill="#aa0078"/>
<rect x="64.5" y="569.5" width="416" height="25" fill="none" stroke="#000" stroke-width="1"/>
<line x1="64.5" y1="569" x2="64.5" y2="599" stroke="#000" stroke-width="1"/>
<line x1="123.5" y1="569" x2="123.5" y2="599" stroke="#000" stroke-width="1"/>
<line x1="183.5" y1="569" x2="183.5" y2="599" stroke="#000" stroke-width="1"/>
<line x1="242.5" y1="569" x2="242.5" y2="599" stroke="#000" stroke-width="1"/>
<line x1="302.5" y1="569" x2="302.5" y2="599" stroke="#000" stroke-width="1"/>
<line x1="361.5" y1="569" x2="361.5" y2="599" stroke="#000" stroke-width="1"/>
<line x1="421.5" y1="569" x2="421.5" y2="599" stroke="#000" stroke-width="1"/>
<line x1="480.5" y1="569" x2="480.5" y2="599" stroke="#000" stroke-width="1"/>
</g>
<text x="64.5" y="608" font-size="11" text-anchor="middle" textLength="11.8" lengthAdjust="spacing">15</text>
<text x="123.5" y="608" font-size="11" text-anchor="middle" textLength="11.8" lengthAdjust="spacing">16</text>
<text x="183.5" y="608" font-size="11" text-anchor="middle" textLength="11.8" lengthAdjust="spacing">17</text>
<text x="242.5" y="608" font-size="11" text-anchor="middle" textLength="11.8" lengthAdjust="spacing">18</text>
<text x="302.5" y="608" font-size="11" text-anchor="middle" textLength="11.8" lengthAdjust="spacing">19</text>
<text x="361.5" y="608" font-size="11" text-anchor="middle" textLength="11.8" lengthAdjust="spacing">20</text>
<text x="421.5" y="608" font-size="11" text-anchor="middle" textLength="11.8" lengthAdjust="spacing">21</text>
<text x="480.5" y="608" font-size="11" text-anchor="middle" textLength="11.8" lengthAdjust="spacing">22</text>
<text y="618.7" font-size="11"><tspan x="209.3" textLength="11" lengthAdjust="spacing">°C</tspan> <tspan x="231.8" textLength="68" lengthAdjust="spacing">2026/04/19</tspan> <tspan x="306.5" textLength="29.8" lengthAdjust="spacing">14:28</tspan></text>
<text y="105.5" font-size="16" fill="#000" style="paint-order:fill stroke;stroke:#fff;stroke-width:0.2px"><tspan x="171.6" textLength="148" lengthAdjust="spacing">VictoriaWeather.ca</tspan> <tspan x="331" textLength="25.6" lengthAdjust="spacingAndGlyphs">--</tspan> <tspan x="366.2" textLength="102" lengthAdjust="spacing">Temperature</tspan></text>
</svg></body></html>
